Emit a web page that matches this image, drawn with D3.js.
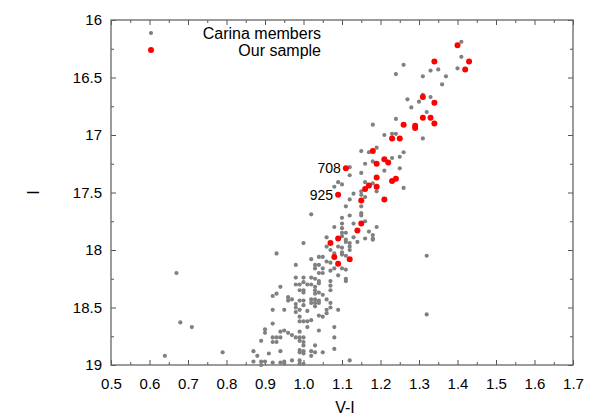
<!DOCTYPE html>
<html>
<head>
<meta charset="utf-8">
<script src="https://cdn.jsdelivr.net/npm/d3@7"></script>
<style>
body { margin: 0; background: #fff; }
text { font-family: "Liberation Sans", Arial, sans-serif; }
</style>
</head>
<body>
<script>
// colour-magnitude data, [V-I, I]
var carinaMembers = [
  [1.41,16.19],[1.26,16.39],[1.24,16.47],[1.31,16.49],[1.33,16.44],[1.35,16.43],[1.41,16.32],[1.40,16.42],
  [1.37,16.49],[1.36,16.56],[1.31,16.65],[1.33,16.67],[1.27,16.69],[1.30,16.71],[1.28,16.76],[1.32,16.80],
  [1.24,16.86],[1.18,16.91],[1.21,17.00],[1.23,16.99],[1.24,16.99],[1.31,17.03],[1.19,17.11],[1.15,17.14],
  [1.17,17.15],[1.25,17.19],[1.26,17.15],[1.16,17.25],[1.18,17.23],[1.23,17.20],[1.21,17.31],[1.25,17.29],
  [1.12,17.28],[1.12,17.35],[1.15,17.33],[1.09,17.41],[1.10,17.43],[1.08,17.45],[1.16,17.41],[1.18,17.42],
  [1.13,17.51],[1.15,17.49],[1.15,17.52],[1.16,17.54],[1.19,17.49],[1.12,17.56],[1.26,17.46],[1.11,17.62],
  [1.15,17.62],[1.02,17.69],[1.15,17.68],[1.15,17.70],[1.12,17.70],[1.10,17.72],[1.16,17.75],[1.19,17.80],
  [1.08,17.80],[1.10,17.77],[1.10,17.81],[1.13,17.77],[1.10,17.85],[1.11,17.85],[1.17,17.84],[1.18,17.87],
  [1.18,17.90],[1.06,17.89],[1.16,17.90],[1.13,17.89],[1.10,17.88],[1.11,17.91],[1.14,17.93],[1.18,17.91],
  [1.00,17.94],[1.06,17.97],[1.07,18.00],[1.09,17.97],[1.10,17.98],[1.11,17.93],[1.12,17.94],[1.12,17.97],
  [1.12,18.00],[1.10,18.02],[1.10,18.04],[1.11,18.05],[1.08,18.03],[0.93,18.03],[1.02,18.08],[1.05,18.06],
  [1.04,18.06],[1.06,18.10],[1.07,18.11],[1.04,18.13],[0.98,18.13],[1.03,18.13],[1.03,18.16],[1.05,18.16],
  [1.04,18.20],[1.05,18.20],[1.07,18.18],[1.09,18.22],[1.08,18.16],[1.10,18.16],[1.11,18.17],[1.11,18.25],
  [1.11,18.27],[1.07,18.27],[1.07,18.31],[1.07,18.35],[0.98,18.24],[1.00,18.24],[1.02,18.24],[1.03,18.25],
  [1.04,18.27],[0.94,18.32],[0.98,18.30],[0.99,18.30],[1.00,18.28],[1.01,18.30],[1.02,18.30],[1.04,18.29],
  [1.03,18.32],[0.99,18.35],[1.00,18.35],[1.03,18.35],[1.03,18.38],[1.04,18.37],[1.05,18.39],[1.00,18.37],
  [0.93,18.38],[0.92,18.40],[0.96,18.41],[0.96,18.44],[0.97,18.43],[0.99,18.44],[1.00,18.44],[1.02,18.43],
  [1.03,18.43],[1.04,18.44],[1.02,18.46],[1.03,18.46],[1.04,18.46],[1.03,18.49],[1.06,18.43],[1.07,18.46],
  [1.07,18.50],[1.06,18.52],[1.06,18.55],[1.09,18.52],[1.00,18.48],[0.99,18.52],[1.01,18.53],[0.98,18.47],
  [0.98,18.50],[0.98,18.54],[0.92,18.52],[0.95,18.52],[1.05,18.58],[0.99,18.58],[1.00,18.62],[1.01,18.62],
  [1.02,18.61],[0.99,18.62],[0.92,18.64],[1.04,18.57],[1.01,18.67],[1.04,18.70],[1.08,18.67],[0.90,18.69],
  [0.90,18.72],[0.94,18.71],[0.95,18.70],[0.96,18.72],[0.97,18.74],[0.98,18.76],[0.99,18.76],[1.00,18.76],
  [0.92,18.76],[0.93,18.76],[0.94,18.76],[0.99,18.79],[1.00,18.80],[0.89,18.79],[0.92,18.80],[0.93,18.80],
  [0.99,18.71],[1.08,18.76],[1.03,18.83],[1.00,18.83],[1.08,18.86],[1.02,18.88],[1.03,18.89],[1.02,18.92],
  [1.05,18.89],[1.00,18.90],[1.12,18.96],[1.32,18.05],[1.32,18.56],[0.87,18.88],[0.91,18.90],[0.94,18.88],
  [0.99,18.87],[0.99,18.89],[1.00,18.88],[0.88,18.92],[0.87,18.97],[0.89,18.97],[0.90,18.97],[0.92,18.98],
  [0.94,18.98],[0.95,18.97],[0.95,18.99],[0.97,18.96],[0.99,18.96],[0.99,18.99],[1.00,18.99],[0.89,19.00],
  [0.67,18.20],[0.68,18.63],[0.71,18.67],[0.64,18.92],[0.79,18.89]
];

var ourSample = [
  [1.40,16.22],[1.34,16.36],[1.43,16.36],[1.42,16.43],[1.31,16.67],[1.34,16.72],[1.31,16.85],[1.33,16.85],
  [1.26,16.91],[1.29,16.92],[1.29,16.94],[1.34,16.90],[1.23,17.03],[1.25,17.03],[1.18,17.14],[1.19,17.25],
  [1.21,17.21],[1.22,17.24],[1.11,17.29],[1.19,17.37],[1.23,17.40],[1.24,17.38],[1.17,17.44],[1.16,17.47],
  [1.19,17.45],[1.09,17.52],[1.15,17.57],[1.21,17.56],[1.15,17.77],[1.14,17.83],[1.09,17.90],[1.07,17.94],
  [1.08,18.06],[1.12,18.08],[1.09,18.12]
];

var starLabels = [
  {id: "708", vi: 1.11, mag: 17.29},
  {id: "925", vi: 1.09, mag: 17.52}
];

var legendNames = ["Carina members", "Our sample"];
var xTicks = [0.5,0.6,0.7,0.8,0.9,1.0,1.1,1.2,1.3,1.4,1.5,1.6,1.7];
var yTicks = [16,16.5,17,17.5,18,18.5,19];

var W = 598, H = 419;
var margin = {top: 20, right: 25, bottom: 54, left: 111};
var width = W - margin.left - margin.right;
var height = H - margin.top - margin.bottom;

var svg = d3.select("body").append("svg")
    .attr("width", W)
    .attr("height", H);

var g = svg.append("g")
    .attr("transform", "translate(" + margin.left + "," + margin.top + ")");

var x = d3.scaleLinear().domain([0.5, 1.7]).range([0, width]);
var y = d3.scaleLinear().domain([16, 19]).range([0, height]);

var xMinor = d3.range(0.55, 1.7, 0.1);
var yMinor = d3.range(16.25, 19, 0.5);

// axes, ticks point inward on all four sides
function styleAxis(sel) {
  sel.select(".domain").remove();
  sel.selectAll(".tick line").attr("stroke", "#555");
  sel.selectAll("text").attr("font-size", "15px").attr("fill", "#000");
}

g.append("g").attr("transform", "translate(0," + height + ")")
  .call(d3.axisBottom(x).tickValues(xTicks).tickSize(-5).tickPadding(13).tickFormat(d3.format(".1f")))
  .call(styleAxis);
g.append("g").attr("transform", "translate(0," + height + ")")
  .call(d3.axisBottom(x).tickValues(xMinor).tickSize(-3).tickFormat(""))
  .call(styleAxis);
g.append("g")
  .call(d3.axisTop(x).tickValues(xTicks).tickSize(-5).tickFormat(""))
  .call(styleAxis);
g.append("g")
  .call(d3.axisTop(x).tickValues(xMinor).tickSize(-3).tickFormat(""))
  .call(styleAxis);

g.append("g")
  .call(d3.axisLeft(y).tickValues(yTicks).tickSize(-5).tickPadding(9).tickFormat(function(d) { return String(d); }))
  .call(styleAxis);
g.append("g")
  .call(d3.axisLeft(y).tickValues(yMinor).tickSize(-3).tickFormat(""))
  .call(styleAxis);
g.append("g").attr("transform", "translate(" + width + ",0)")
  .call(d3.axisRight(y).tickValues(yTicks).tickSize(-5).tickFormat(""))
  .call(styleAxis);
g.append("g").attr("transform", "translate(" + width + ",0)")
  .call(d3.axisRight(y).tickValues(yMinor).tickSize(-3).tickFormat(""))
  .call(styleAxis);

g.append("rect")
  .attr("width", width)
  .attr("height", height)
  .attr("fill", "none")
  .attr("stroke", "#666")
  .attr("stroke-width", 1.3);

// axis labels
g.append("text")
  .attr("x", width / 2 + 3)
  .attr("y", height + 48)
  .attr("font-size", "16px")
  .attr("text-anchor", "middle")
  .text("V-I");

g.append("text")
  .attr("transform", "translate(-78," + (height / 2) + ") rotate(-90)")
  .attr("font-size", "16px")
  .attr("text-anchor", "middle")
  .attr("dy", "0.35em")
  .text("I");

// points
g.append("g").selectAll("circle").data(carinaMembers)
  .enter().append("circle")
  .attr("cx", function(d) { return x(d[0]); })
  .attr("cy", function(d) { return y(d[1]); })
  .attr("r", 2.1)
  .attr("fill", "#808080");

g.append("g").selectAll("circle").data(ourSample)
  .enter().append("circle")
  .attr("cx", function(d) { return x(d[0]); })
  .attr("cy", function(d) { return y(d[1]); })
  .attr("r", 3)
  .attr("fill", "#ff0000");

g.selectAll(".starlabel").data(starLabels)
  .enter().append("text")
  .attr("class", "starlabel")
  .attr("x", function(d) { return x(d.vi) - 5; })
  .attr("y", function(d) { return y(d.mag); })
  .attr("dy", "0.35em")
  .attr("font-size", "14px")
  .attr("text-anchor", "end")
  .text(function(d) { return d.id; });

// legend
var legend = g.append("g").attr("transform", "translate(0,13)");
legend.selectAll("circle").data(legendNames)
  .enter().append("circle")
  .attr("cx", 40)
  .attr("cy", function(d, i) { return i * 17; })
  .attr("r", function(d, i) { return i == 0 ? 2.1 : 3; })
  .attr("fill", function(d, i) { return i == 0 ? "#808080" : "#ff0000"; });
legend.selectAll("text").data(legendNames)
  .enter().append("text")
  .attr("x", 210)
  .attr("y", function(d, i) { return i * 17; })
  .attr("dy", "0.35em")
  .attr("font-size", "16px")
  .attr("text-anchor", "end")
  .text(function(d) { return d; });
</script>
</body>
</html>
